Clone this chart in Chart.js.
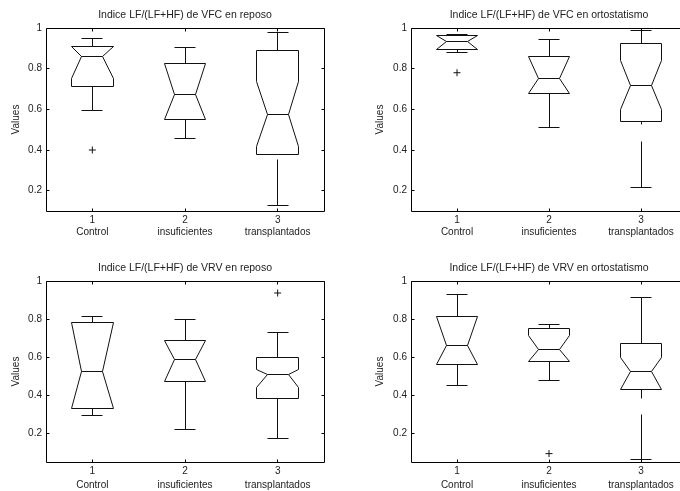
<!DOCTYPE html>
<html>
<head>
<meta charset="utf-8">
<script src="https://cdn.jsdelivr.net/npm/chart.js@4/dist/chart.umd.min.js"></script>
<style>
  html, body { margin: 0; padding: 0; background: #fff; }
  body { width: 680px; height: 491px; overflow: hidden; position: relative; }
  .panel { position: absolute; }
</style>
</head>
<body>
<div class="panel" style="left:0;top:0"><canvas id="c1" width="340" height="245"></canvas></div>
<div class="panel" style="left:340px;top:0"><canvas id="c2" width="360" height="245"></canvas></div>
<div class="panel" style="left:0;top:245px"><canvas id="c3" width="340" height="246"></canvas></div>
<div class="panel" style="left:340px;top:245px"><canvas id="c4" width="360" height="246"></canvas></div>
<script>
    const groupNumbers = ['1', '2', '3'];
    const groups = ['Control', 'insuficientes', 'transplantados'];
    const yTicks = [0.2, 0.4, 0.6, 0.8, 1];

    // Indice LF/(LF+HF) de VFC en reposo
    const vfcReposoUpper = [0.949, 0.905, 0.977];
    const vfcReposoQ3 = [0.911, 0.823, 0.889];
    const vfcReposoNotchHigh = [0.911, 0.823, 0.738];
    const vfcReposoMedian = [0.861, 0.675, 0.575];
    const vfcReposoNotchLow = [0.751, 0.549, 0.418];
    const vfcReposoQ1 = [0.710, 0.549, 0.380];
    const vfcReposoLower = [0.595, 0.456, 0.126];
    const vfcReposoOutliers = [[0.400], [], []];
    const vfcReposoLowerGap = [null, null, [0.378, 0.351]];

    // Indice LF/(LF+HF) de VFC en ortostatismo
    const vfcOrtoUpper = [0.970, 0.943, 0.989];
    const vfcOrtoQ3 = [0.961, 0.861, 0.926];
    const vfcOrtoNotchHigh = [0.961, 0.861, 0.839];
    const vfcOrtoMedian = [0.936, 0.752, 0.718];
    const vfcOrtoNotchLow = [0.892, 0.677, 0.598];
    const vfcOrtoQ1 = [0.892, 0.677, 0.538];
    const vfcOrtoLower = [0.879, 0.511, 0.218];
    const vfcOrtoOutliers = [[0.780], [], []];
    const vfcOrtoLowerGap = [null, null, [0.523, 0.443]];

    // Indice LF/(LF+HF) de VRV en reposo
    const vrvReposoUpper = [0.816, 0.798, 0.732];
    const vrvReposoQ3 = [0.783, 0.689, 0.598];
    const vrvReposoNotchHigh = [0.783, 0.689, 0.537];
    const vrvReposoMedian = [0.525, 0.590, 0.508];
    const vrvReposoNotchLow = [0.332, 0.470, 0.442];
    const vrvReposoQ1 = [0.332, 0.470, 0.381];
    const vrvReposoLower = [0.292, 0.223, 0.172];
    const vrvReposoOutliers = [[], [], [0.937]];
    const vrvReposoLowerGap = [null, null, null];

    // Indice LF/(LF+HF) de VRV en ortostatismo
    const vrvOrtoUpper = [0.931, 0.770, 0.915];
    const vrvOrtoQ3 = [0.812, 0.753, 0.673];
    const vrvOrtoNotchHigh = [0.812, 0.715, 0.596];
    const vrvOrtoMedian = [0.664, 0.638, 0.523];
    const vrvOrtoNotchLow = [0.560, 0.580, 0.432];
    const vrvOrtoQ1 = [0.560, 0.580, 0.432];
    const vrvOrtoLower = [0.452, 0.478, 0.062];
    const vrvOrtoOutliers = [[], [0.094], []];
    const vrvOrtoLowerGap = [null, null, [0.383, 0.300]];

    const FONT = "'Liberation Sans', Arial, sans-serif";
    const TEXT = '#222';
    const boxHalf = 0.225;
    const capHalf = 0.112;
    const tickLen = 3;

    const snap = v => Math.round(v - 0.5) + 0.5;

    // notched boxes, frame with inward ticks and the title
    const boxPlugin = {
        id: 'boxes',
        beforeDatasetsDraw(chart, args, opts) {
            const ctx = chart.ctx;
            const xs = chart.scales.x;
            const ys = chart.scales.y;
            const s = opts.stats;
            const y = v => snap(ys.getPixelForValue(v));
            const x = v => snap(xs.getPixelForValue(v));

            ctx.save();
            ctx.strokeStyle = '#111';
            ctx.lineWidth = 1;
            for (let i = 0; i < s.median.length; i++) {
                const c = i + 1;
                const xl = x(c - boxHalf), xr = x(c + boxHalf);
                const nl = x(c - boxHalf / 2), nr = x(c + boxHalf / 2);
                const cl = x(c - capHalf), cr = x(c + capHalf);
                const xc = x(c);

                ctx.beginPath();
                ctx.moveTo(xl, y(s.q1[i]));
                ctx.lineTo(xl, y(s.notchLow[i]));
                ctx.lineTo(nl, y(s.median[i]));
                ctx.lineTo(xl, y(s.notchHigh[i]));
                ctx.lineTo(xl, y(s.q3[i]));
                ctx.lineTo(xr, y(s.q3[i]));
                ctx.lineTo(xr, y(s.notchHigh[i]));
                ctx.lineTo(nr, y(s.median[i]));
                ctx.lineTo(xr, y(s.notchLow[i]));
                ctx.lineTo(xr, y(s.q1[i]));
                ctx.closePath();

                ctx.moveTo(nl, y(s.median[i]));
                ctx.lineTo(nr, y(s.median[i]));

                ctx.moveTo(xc, y(s.q3[i]));
                ctx.lineTo(xc, y(s.upper[i]));
                ctx.moveTo(cl, y(s.upper[i]));
                ctx.lineTo(cr, y(s.upper[i]));

                // lower whisker, broken where the original dash pattern left a gap
                const gap = s.lowerGap[i];
                if (gap) {
                    ctx.moveTo(xc, y(s.q1[i]));
                    ctx.lineTo(xc, y(gap[0]));
                    ctx.moveTo(xc, y(gap[1]));
                } else {
                    ctx.moveTo(xc, y(s.q1[i]));
                }
                ctx.lineTo(xc, y(s.lower[i]));
                ctx.moveTo(cl, y(s.lower[i]));
                ctx.lineTo(cr, y(s.lower[i]));
                ctx.stroke();
            }
            ctx.restore();
        },
        afterDraw(chart, args, opts) {
            const ctx = chart.ctx;
            const a = chart.chartArea;
            const xs = chart.scales.x;
            const ys = chart.scales.y;
            const l = snap(a.left), r = snap(a.right), t = snap(a.top), b = snap(a.bottom);

            ctx.save();
            ctx.strokeStyle = '#000';
            ctx.lineWidth = 1;
            ctx.beginPath();
            ctx.rect(l, t, r - l, b - t);
            ys.ticks.forEach(tk => {
                const py = snap(ys.getPixelForValue(tk.value));
                ctx.moveTo(l, py); ctx.lineTo(l + tickLen, py);
                ctx.moveTo(r, py); ctx.lineTo(r - tickLen, py);
            });
            xs.ticks.forEach(tk => {
                const px = snap(xs.getPixelForValue(tk.value));
                ctx.moveTo(px, b); ctx.lineTo(px, b - tickLen);
                ctx.moveTo(px, t); ctx.lineTo(px, t + tickLen);
            });
            ctx.stroke();

            ctx.fillStyle = TEXT;
            ctx.font = '10.5px ' + FONT;
            ctx.textAlign = 'center';
            ctx.textBaseline = 'middle';
            ctx.fillText(opts.title, (a.left + a.right) / 2, a.top - 12.8);
            ctx.restore();
        }
    };

    function outlierPoints(outliers) {
        const pts = [];
        outliers.forEach((list, i) => {
            list.forEach(v => pts.push({ x: i + 1, y: v }));
        });
        return pts;
    }

    function makeChart(id, title, stats, yMin, lay) {
        const ctx = document.getElementById(id);
        return new Chart(ctx, {
            type: 'scatter',
            data: {
                datasets: [{
                    data: outlierPoints(stats.outliers),
                    pointStyle: 'cross',
                    radius: 3.5,
                    borderColor: '#111',
                    borderWidth: 1
                }]
            },
            options: {
                responsive: false,
                animation: false,
                layout: { padding: { top: lay.top, right: lay.right, left: 0, bottom: 0 } },
                plugins: {
                    legend: { display: false },
                    tooltip: { enabled: false },
                    title: { display: false },
                    boxes: { title: title, stats: stats }
                },
                scales: {
                    x: {
                        type: 'linear',
                        min: 0.5,
                        max: 3.5,
                        grid: { display: false, drawTicks: false },
                        border: { display: false },
                        afterBuildTicks: s => { s.ticks = groupNumbers.map((_, i) => ({ value: i + 1 })); },
                        afterFit: s => { s.height = lay.xHeight; },
                        ticks: {
                            autoSkip: false,
                            maxRotation: 0,
                            padding: lay.xPad,
                            color: TEXT,
                            font: { family: FONT, size: 10, lineHeight: lay.xLine / 10 },
                            callback: v => [groupNumbers[v - 1], groups[v - 1]]
                        }
                    },
                    y: {
                        min: yMin,
                        max: 1,
                        grid: { display: false, drawTicks: false },
                        border: { display: false },
                        afterBuildTicks: s => { s.ticks = yTicks.map(v => ({ value: v })); },
                        afterFit: s => { s.width = lay.yWidth; },
                        ticks: {
                            padding: 4,
                            color: TEXT,
                            font: { family: FONT, size: 10 },
                            callback: v => String(v)
                        },
                        title: {
                            display: true,
                            text: 'Values',
                            color: TEXT,
                            font: { family: FONT, size: 10, lineHeight: 1.2 },
                            padding: { top: lay.yTitlePad, bottom: 0 }
                        }
                    }
                }
            },
            plugins: [boxPlugin]
        });
    }

    makeChart('c1', 'Indice LF/(LF+HF) de VFC en reposo', {
        upper: vfcReposoUpper, q3: vfcReposoQ3, notchHigh: vfcReposoNotchHigh, median: vfcReposoMedian,
        notchLow: vfcReposoNotchLow, q1: vfcReposoQ1, lower: vfcReposoLower, outliers: vfcReposoOutliers,
        lowerGap: vfcReposoLowerGap
    }, 0.1, { top: 28, right: 16, xHeight: 34, yWidth: 46, yTitlePad: 10, xPad: 3, xLine: 12 });

    makeChart('c2', 'Indice LF/(LF+HF) de VFC en ortostatismo', {
        upper: vfcOrtoUpper, q3: vfcOrtoQ3, notchHigh: vfcOrtoNotchHigh, median: vfcOrtoMedian,
        notchLow: vfcOrtoNotchLow, q1: vfcOrtoQ1, lower: vfcOrtoLower, outliers: vfcOrtoOutliers,
        lowerGap: vfcOrtoLowerGap
    }, 0.1, { top: 28, right: 13, xHeight: 34, yWidth: 71, yTitlePad: 34.5, xPad: 3, xLine: 12 });

    makeChart('c3', 'Indice LF/(LF+HF) de VRV en reposo', {
        upper: vrvReposoUpper, q3: vrvReposoQ3, notchHigh: vrvReposoNotchHigh, median: vrvReposoMedian,
        notchLow: vrvReposoNotchLow, q1: vrvReposoQ1, lower: vrvReposoLower, outliers: vrvReposoOutliers,
        lowerGap: vrvReposoLowerGap
    }, 0.05, { top: 36, right: 16, xHeight: 29, yWidth: 46, yTitlePad: 10, xPad: 2, xLine: 14 });

    makeChart('c4', 'Indice LF/(LF+HF) de VRV en ortostatismo', {
        upper: vrvOrtoUpper, q3: vrvOrtoQ3, notchHigh: vrvOrtoNotchHigh, median: vrvOrtoMedian,
        notchLow: vrvOrtoNotchLow, q1: vrvOrtoQ1, lower: vrvOrtoLower, outliers: vrvOrtoOutliers,
        lowerGap: vrvOrtoLowerGap
    }, 0.05, { top: 36, right: 13, xHeight: 29, yWidth: 71, yTitlePad: 34.5, xPad: 2, xLine: 14 });
</script>
</body>
</html>
